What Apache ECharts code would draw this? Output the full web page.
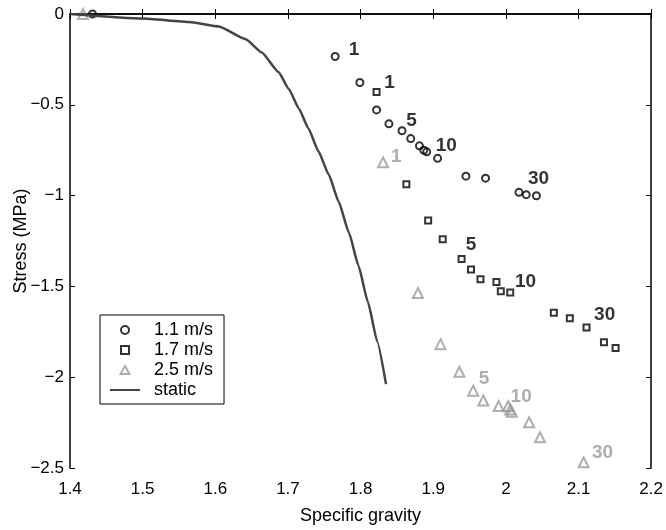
<!DOCTYPE html>
<html>
<head>
<meta charset="utf-8">
<script src="https://cdn.jsdelivr.net/npm/echarts@6/dist/echarts.min.js"></script>
<style>
  html, body { margin: 0; padding: 0; background: #fff; }
  #main { width: 666px; height: 530px; }
</style>
</head>
<body>
<div id="main"></div>
<script>
// tick labels (MATLAB style, minus sign)
var xTickLabels = ['1.4', '1.5', '1.6', '1.7', '1.8', '1.9', '2', '2.1', '2.2'];
var yTickLabels = ['\u22122.5', '\u22122', '\u22121.5', '\u22121', '\u22120.5', '0'];

// 1.1 m/s
var sg11 = [1.431, 1.765, 1.799, 1.822, 1.839, 1.857, 1.869, 1.881, 1.887, 1.891, 1.906, 1.945, 1.972, 2.018, 2.028, 2.042];
var stress11 = [0, -0.234, -0.377, -0.528, -0.605, -0.643, -0.686, -0.726, -0.750, -0.759, -0.795, -0.893, -0.904, -0.982, -0.995, -1.001];

// 1.7 m/s
var sg17 = [1.822, 1.863, 1.893, 1.913, 1.939, 1.952, 1.965, 1.987, 1.993, 2.006, 2.066, 2.088, 2.111, 2.135, 2.151];
var stress17 = [-0.429, -0.937, -1.137, -1.240, -1.349, -1.407, -1.461, -1.476, -1.527, -1.534, -1.645, -1.676, -1.727, -1.808, -1.839];

// 2.5 m/s
var sg25 = [1.418, 1.831, 1.879, 1.910, 1.936, 1.955, 1.969, 1.990, 2.003, 2.006, 2.008, 2.032, 2.047, 2.107];
var stress25 = [0, -0.817, -1.536, -1.818, -1.970, -2.074, -2.128, -2.159, -2.160, -2.178, -2.190, -2.248, -2.331, -2.469];

// static curve
var sgStatic = [1.400, 1.500, 1.564, 1.605, 1.642, 1.664, 1.687, 1.701, 1.715, 1.728, 1.742, 1.756, 1.770, 1.784, 1.797, 1.810, 1.823, 1.835];
var stressStatic = [0, -0.025, -0.044, -0.069, -0.139, -0.212, -0.320, -0.411, -0.520, -0.629, -0.756, -0.883, -1.035, -1.205, -1.385, -1.585, -1.805, -2.038];

// text notes (black / gray)
var noteBlackText = ['1', '1', '5', '10', '30', '5', '10', '30'];
var noteBlackX = [1.791, 1.840, 1.870, 1.918, 2.045, 1.952, 2.027, 2.136];
var noteBlackY = [-0.199, -0.379, -0.586, -0.728, -0.908, -1.269, -1.475, -1.657];
var noteGrayText = ['1', '5', '10', '30'];
var noteGrayX = [1.849, 1.970, 2.021, 2.133];
var noteGrayY = [-0.784, -2.011, -2.108, -2.417];

var FONT = 'Liberation Sans, Arial, Helvetica, sans-serif';
var GRAY = '#9a9a9a';

// legend icons (kept square)
var ICON_CIRCLE = 'path://M10,5A5,5 0 1,1 0,5A5,5 0 1,1 10,5Z';
var ICON_SQUARE = 'path://M0,0H10V10H0Z';
var ICON_TRIANGLE = 'path://M5,0L10,9H0Z';

function zip(xs, ys) {
    return xs.map(function(x, i) { return [x, ys[i]]; });
}

function notes(xs, ys, texts) {
    return xs.map(function(x, i) { return { value: [x, ys[i]], label: { formatter: texts[i] } }; });
}

function tickFormatter(labels, min, step) {
    return function(v) {
        var i = Math.round((v - min) / step);
        return labels[i] !== undefined ? labels[i] : '';
    };
}

var chart = echarts.init(document.getElementById('main'), null, { renderer: 'canvas' });

var axisLine = { lineStyle: { color: '#000', width: 1.5 } };
var axisTick = { inside: true, length: 5, lineStyle: { color: '#000', width: 1 } };

var option = {
    animation: false,
    backgroundColor: '#fff',
    textStyle: { fontFamily: FONT },
    grid: { left: 70, right: 10, top: 14, bottom: 57 },
    legend: {
        orient: 'vertical',
        left: 100,
        top: 315,
        padding: [5, 11, 4, 9],
        itemGap: 0,
        itemWidth: 30,
        itemHeight: 8,
        symbolKeepAspect: true,
        backgroundColor: '#fff',
        borderColor: '#000',
        borderWidth: 1,
        borderRadius: 0,
        textStyle: { fontSize: 18, lineHeight: 20, color: '#000', fontFamily: FONT, padding: [0, 0, 0, 9] },
        data: [
            { name: '1.1 m/s', icon: ICON_CIRCLE },
            { name: '1.7 m/s', icon: ICON_SQUARE },
            { name: '2.5 m/s', icon: ICON_TRIANGLE },
            { name: 'static' }
        ]
    },
    xAxis: [{
        type: 'value',
        min: 1.4, max: 2.2, interval: 0.1,
        name: 'Specific gravity',
        nameLocation: 'middle',
        nameGap: 39,
        nameMoveOverlap: false,
        nameTextStyle: { fontSize: 18, color: '#000', fontFamily: FONT },
        axisLine: axisLine,
        axisTick: axisTick,
        splitLine: { show: false },
        axisLabel: { fontSize: 17, color: '#000', margin: 13, fontFamily: FONT,
            formatter: tickFormatter(xTickLabels, 1.4, 0.1) }
    }, {
        type: 'value', position: 'top',
        min: 1.4, max: 2.2, interval: 0.1,
        axisLine: axisLine,
        axisTick: axisTick,
        splitLine: { show: false },
        axisLabel: { show: false }
    }],
    yAxis: [{
        type: 'value',
        min: -2.5, max: 0, interval: 0.5,
        name: 'Stress (MPa)',
        nameLocation: 'middle',
        nameGap: 40,
        nameMoveOverlap: false,
        nameTextStyle: { fontSize: 18, color: '#000', fontFamily: FONT },
        axisLine: axisLine,
        axisTick: axisTick,
        splitLine: { show: false },
        axisLabel: { fontSize: 17, color: '#000', margin: 6, fontFamily: FONT,
            formatter: tickFormatter(yTickLabels, -2.5, 0.5) }
    }, {
        type: 'value', position: 'right',
        min: -2.5, max: 0, interval: 0.5,
        axisLine: axisLine,
        axisTick: axisTick,
        splitLine: { show: false },
        axisLabel: { show: false }
    }],
    series: [{
        name: 'static',
        type: 'line',
        symbol: 'none',
        smooth: 0.15,
        smoothMonotone: 'x',
        lineStyle: { color: '#444', width: 2.5 },
        itemStyle: { color: 'rgba(0,0,0,0)', borderWidth: 0 },
        data: zip(sgStatic, stressStatic)
    }, {
        name: '1.1 m/s',
        type: 'scatter',
        symbol: 'circle',
        symbolSize: 7,
        itemStyle: { color: 'rgba(0,0,0,0)', borderColor: '#000', borderWidth: 2 },
        data: zip(sg11, stress11)
    }, {
        name: '1.7 m/s',
        type: 'scatter',
        symbol: 'rect',
        symbolSize: 6,
        itemStyle: { color: 'rgba(0,0,0,0)', borderColor: '#000', borderWidth: 2 },
        data: zip(sg17, stress17)
    }, {
        name: '2.5 m/s',
        type: 'scatter',
        symbol: 'triangle',
        symbolSize: 10,
        itemStyle: { color: 'rgba(0,0,0,0)', borderColor: GRAY, borderWidth: 2 },
        data: zip(sg25, stress25)
    }, {
        name: 'notesBlack',
        type: 'scatter',
        silent: true,
        symbolSize: 1,
        itemStyle: { color: 'rgba(0,0,0,0)' },
        label: { show: true, position: 'inside', fontSize: 19, fontWeight: 'bold', color: '#000', fontFamily: FONT },
        data: notes(noteBlackX, noteBlackY, noteBlackText)
    }, {
        name: 'notesGray',
        type: 'scatter',
        silent: true,
        symbolSize: 1,
        itemStyle: { color: 'rgba(0,0,0,0)' },
        label: { show: true, position: 'inside', fontSize: 19, fontWeight: 'bold', color: GRAY, fontFamily: FONT },
        data: notes(noteGrayX, noteGrayY, noteGrayText)
    }]
};

chart.setOption(option);
</script>
</body>
</html>
